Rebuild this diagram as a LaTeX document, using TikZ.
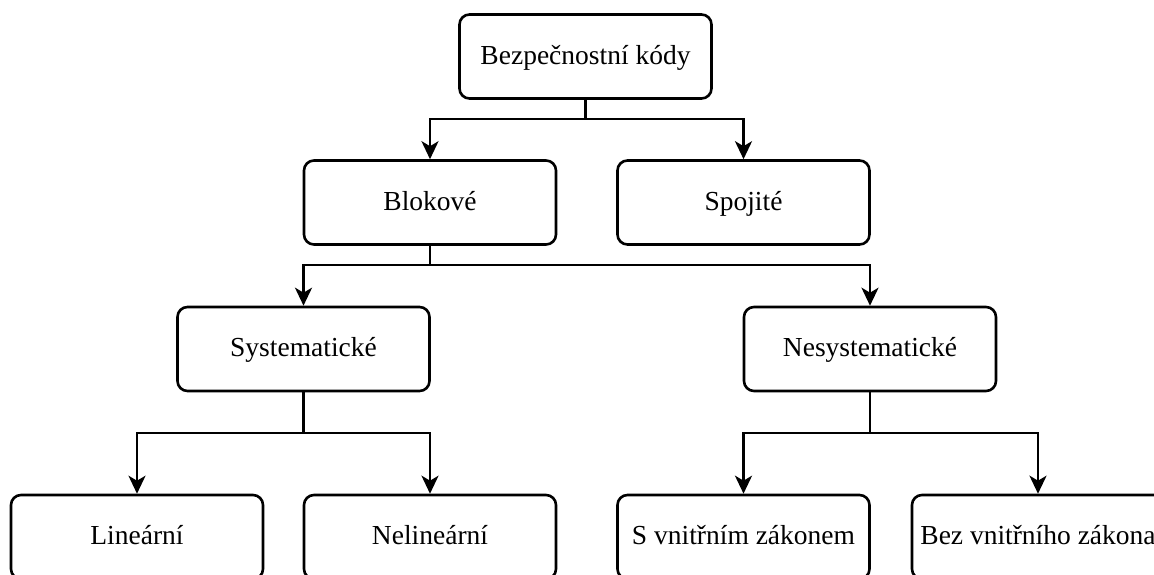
\documentclass[tikz,border=0pt]{standalone}
\usepackage{fontspec}
\setmainfont{Liberation Serif}
\usetikzlibrary{arrows.meta}
\begin{document}
\begin{tikzpicture}[x=1pt,y=-1pt,
  box/.style={draw, line width=2.6pt, rounded corners=10pt, minimum width=252pt, minimum height=84pt, inner sep=0pt, font=\fontsize{27.5}{32}\selectfont, text height=20pt, text depth=5pt, fill=white},
  conn/.style={line width=2.6pt},
  arr/.style={conn, -{Stealth[length=18pt,width=17pt,inset=5pt]}}]
\clip (0,0) rectangle (1154,574);
\fill[white] (0,0) rectangle (1154,574);
\node[box] (top) at (585.5,56.5) {Bezpečnostní kódy};
\node[box] (blok) at (430,202.5) {Blokové};
\node[box] (spoj) at (743.5,202.5) {Spojité};
\node[box] (sys) at (303.5,349) {Systematické};
\node[box] (nesys) at (870,349) {Nesystematické};
\node[box] (lin) at (137,537) {Lineární};
\node[box] (nelin) at (430,537) {Nelineární};
\node[box] (svn) at (743.5,537) {S vnitřním zákonem};
\node[box] (bez) at (1038,537) {Bez vnitřního zákona};
\coordinate (j1) at (585.5,119);
\coordinate (j2) at (430,265);
\coordinate (j3) at (303.5,433);
\coordinate (j4) at (870,433);
\draw[conn] (top.south) -- (j1);
\draw[arr] (j1) -| (blok.north);
\draw[arr] (j1) -| (spoj.north);
\draw[conn] (blok.south) -- (j2);
\draw[arr] (j2) -| (sys.north);
\draw[arr] (j2) -| (nesys.north);
\draw[conn] (sys.south) -- (j3);
\draw[arr] (j3) -| (lin.north);
\draw[arr] (j3) -| (nelin.north);
\draw[conn] (nesys.south) -- (j4);
\draw[arr] (j4) -| (svn.north);
\draw[arr] (j4) -| (bez.north);
\end{tikzpicture}
\end{document}
